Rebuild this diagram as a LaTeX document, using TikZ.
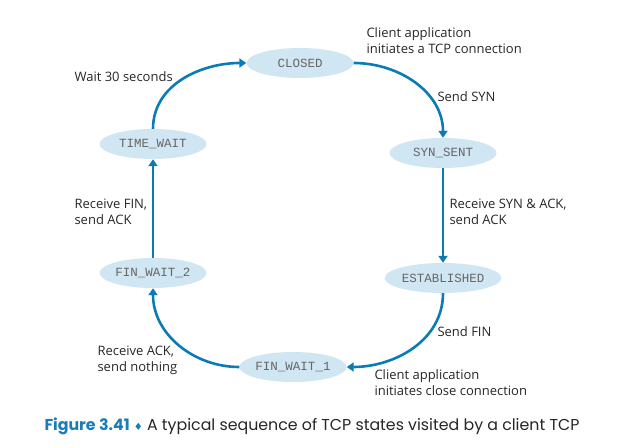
\documentclass[tikz,border=0pt]{standalone}
\usepackage{fontspec}
\setmainfont{Open Sans}
\newfontfamily\statefont{Liberation Mono}
\newfontfamily\capfont{Poppins}
\newfontfamily\symfont{DejaVu Sans}
\usetikzlibrary{arrows.meta, shapes.geometric}
\definecolor{arrowblue}{HTML}{0B7BB5}
\definecolor{statefill}{HTML}{D0E6F2}
\definecolor{capblue}{HTML}{1A7DBA}

\begin{document}
\begin{tikzpicture}[x=1pt, y=1pt,
	state/.style={ellipse, fill=statefill, minimum width=107pt, minimum height=30pt, inner sep=0pt, font=\statefont\fontsize{12.5}{14}\selectfont, text=black!60},
	trans/.style={arrowblue, line width=2.6pt, -{Triangle[length=7pt, width=9pt]}},
	lbl/.style={anchor=west, align=left, font=\fontsize{13}{16}\selectfont, text=black!85}]
		\useasboundingbox (0,0) rectangle (617,447);
		% states
		\node[state] (closed) at (300,384) {CLOSED};
		\node[state] (synsent) at (443,294) {SYN\_SENT};
		\node[state] (established) at (443,169) {ESTABLISHED};
		\node[state] (finwait1) at (293,80) {FIN\_WAIT\_1};
		\node[state] (finwait2) at (153,174) {FIN\_WAIT\_2};
		\node[state] (timewait) at (153,303) {TIME\_WAIT};
		% transitions
		\draw[trans] (closed.east) to[out=0, in=90] (synsent.north);
		\draw[trans] (synsent.south) -- (established.north);
		\draw[trans] (established.south) to[out=-90, in=0] (finwait1.east);
		\draw[trans] (finwait1.west) to[out=180, in=-90] (finwait2.south);
		\draw[trans] (finwait2.north) -- (timewait.south);
		\draw[trans] (timewait.north) to[out=90, in=180] (closed.west);
		% labels
		\node[lbl] (lwait) at (71,370) {Wait 30 seconds};
		\node[lbl] (lopen) at (363,406) {Client application\\initiates a TCP connection};
		\node[lbl] (lsyn) at (434,350) {Send SYN};
		\node[lbl] (lsynack) at (446,235) {Receive SYN \& ACK,\\send ACK};
		\node[lbl] (lfin) at (71,235) {Receive FIN,\\send ACK};
		\node[lbl] (lsendfin) at (434,115) {Send FIN};
		\node[lbl] (lack) at (94,87) {Receive ACK,\\send nothing};
		\node[lbl] (lclose) at (371,64) {Client application\\initiates close connection};
		% caption
		\node[anchor=west, font=\capfont\fontsize{15.8}{18}\selectfont, text=black!85] (caption) at (41,21)
			{\textcolor{capblue}{\bfseries Figure 3.41} {\symfont\fontsize{10}{10}\selectfont\textcolor{capblue}{♦}} A typical sequence of TCP states visited by a client TCP};
	\end{tikzpicture}
\end{document}
